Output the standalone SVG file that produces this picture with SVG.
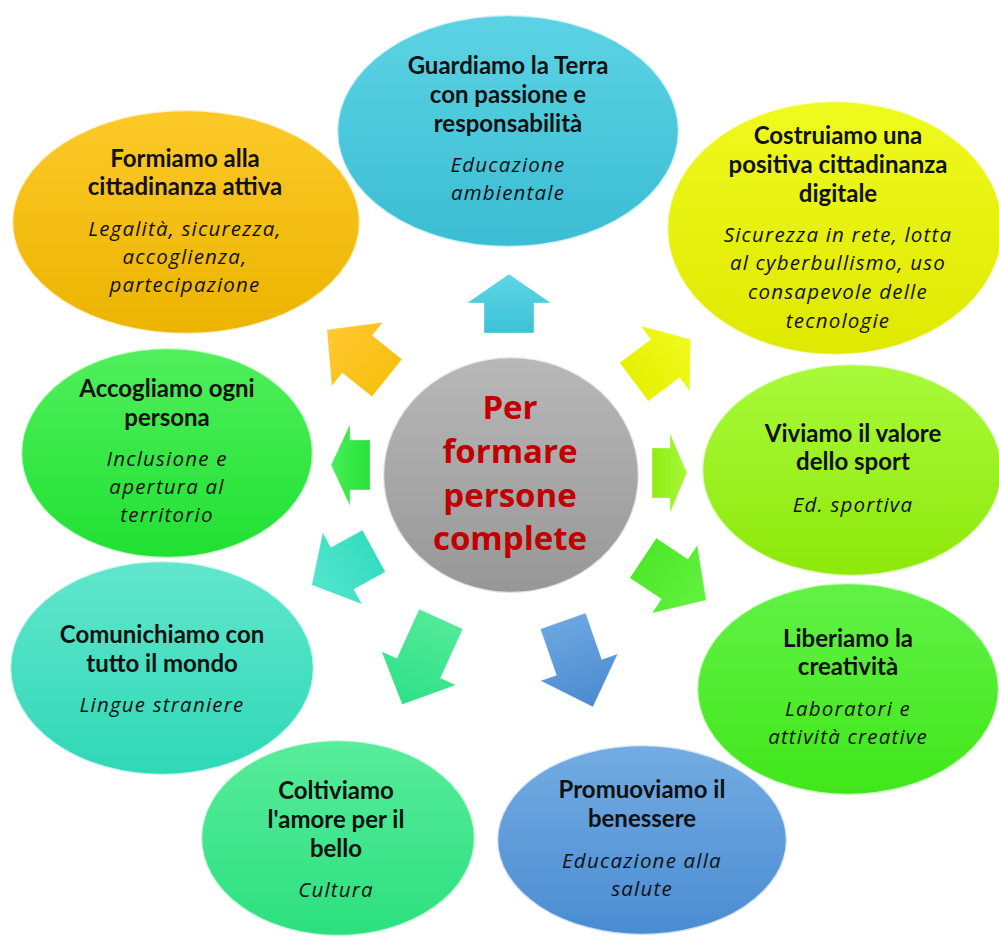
<svg xmlns="http://www.w3.org/2000/svg" width="999" height="936" viewBox="0 0 999 936">
<defs>
<linearGradient id="gCyan" x1="0" y1="0" x2="0" y2="1"><stop offset="0" stop-color="#5cd3e4"/><stop offset="1" stop-color="#3bbdd3"/></linearGradient>
<linearGradient id="gOrange" x1="0" y1="0" x2="0" y2="1"><stop offset="0" stop-color="#fcc928"/><stop offset="1" stop-color="#ecb400"/></linearGradient>
<linearGradient id="gYellow" x1="0" y1="0" x2="0" y2="1"><stop offset="0" stop-color="#effa1e"/><stop offset="1" stop-color="#dfe800"/></linearGradient>
<linearGradient id="gLime" x1="0" y1="0" x2="0" y2="1"><stop offset="0" stop-color="#a8fa3a"/><stop offset="1" stop-color="#8ee80a"/></linearGradient>
<linearGradient id="gGreen" x1="0" y1="0" x2="0" y2="1"><stop offset="0" stop-color="#62f246"/><stop offset="1" stop-color="#40e61a"/></linearGradient>
<linearGradient id="gBlue" x1="0" y1="0" x2="0" y2="1"><stop offset="0" stop-color="#74ace2"/><stop offset="1" stop-color="#4a8cd2"/></linearGradient>
<linearGradient id="gMint" x1="0" y1="0" x2="0" y2="1"><stop offset="0" stop-color="#58ec9c"/><stop offset="1" stop-color="#2ce07e"/></linearGradient>
<linearGradient id="gTeal" x1="0" y1="0" x2="0" y2="1"><stop offset="0" stop-color="#62e6cc"/><stop offset="1" stop-color="#2ed8b6"/></linearGradient>
<linearGradient id="gLeaf" x1="0" y1="0" x2="0" y2="1"><stop offset="0" stop-color="#50f05c"/><stop offset="1" stop-color="#20e032"/></linearGradient>
<linearGradient id="gGray" x1="0" y1="0" x2="0" y2="1"><stop offset="0" stop-color="#b8b8b8"/><stop offset="1" stop-color="#979797"/></linearGradient>
<linearGradient id="aCyan" x1="0" y1="0" x2="1" y2="0"><stop offset="0" stop-color="#3cc2d6"/><stop offset="1" stop-color="#5ed6e6"/></linearGradient>
<linearGradient id="aOrange" x1="0" y1="0" x2="1" y2="0"><stop offset="0" stop-color="#f8c010"/><stop offset="1" stop-color="#ffc830"/></linearGradient>
<linearGradient id="aYellow" x1="0" y1="0" x2="1" y2="0"><stop offset="0" stop-color="#e6f000"/><stop offset="1" stop-color="#f0fa20"/></linearGradient>
<linearGradient id="aLime" x1="0" y1="0" x2="1" y2="0"><stop offset="0" stop-color="#90ee10"/><stop offset="1" stop-color="#a6f83a"/></linearGradient>
<linearGradient id="aLeaf" x1="0" y1="0" x2="1" y2="0"><stop offset="0" stop-color="#28e238"/><stop offset="1" stop-color="#48ee58"/></linearGradient>
<linearGradient id="aTeal" x1="0" y1="0" x2="1" y2="0"><stop offset="0" stop-color="#36dcc0"/><stop offset="1" stop-color="#52e6cc"/></linearGradient>
<linearGradient id="aGreen" x1="0" y1="0" x2="1" y2="0"><stop offset="0" stop-color="#4ee82a"/><stop offset="1" stop-color="#62f240"/></linearGradient>
<linearGradient id="aMint" x1="0" y1="0" x2="1" y2="0"><stop offset="0" stop-color="#52ea98"/><stop offset="1" stop-color="#2ee088"/></linearGradient>
<linearGradient id="aBlue" x1="0" y1="0" x2="1" y2="0"><stop offset="0" stop-color="#6ca6e0"/><stop offset="1" stop-color="#4a8ad0"/></linearGradient>
</defs>
<style>
.node{stroke:#ffffff;stroke-opacity:0.7;stroke-width:2.5}
.t{fill:#111111;text-anchor:middle}
.b{font-family:Lato,"Liberation Sans",sans-serif;font-weight:bold;font-size:24px}
.i{font-family:"Open Sans","Liberation Sans",sans-serif;font-style:italic;font-size:20.5px;letter-spacing:1.2px}
.c{font-family:"Open Sans","Liberation Sans",sans-serif;font-weight:bold;font-size:33px;fill:#c00000;text-anchor:middle}
.arr{stroke:#ffffff;stroke-opacity:0.35;stroke-width:1}
</style>
<rect width="999" height="936" fill="#ffffff"/>
<g id="connectors">
<g transform="translate(509,333) rotate(-90)"><polygon class="arr" fill="url(#aCyan)" points="0,-25 30,-25 30,-42 59,0 30,42 30,25 0,25"/></g>
<g transform="translate(387,378) rotate(-141.3)"><polygon class="arr" fill="url(#aOrange)" points="0,-24 38,-24 38,-41 77,0 38,41 38,24 0,24"/></g>
<g transform="translate(634,382) rotate(-37)"><polygon class="arr" fill="url(#aYellow)" points="0,-24 39,-24 39,-41 71,0 39,41 39,24 0,24"/></g>
<g transform="translate(652,473)"><polygon class="arr" fill="url(#aLime)" points="0,-25 18,-25 18,-40 35,0 18,40 18,25 0,25"/></g>
<g transform="translate(370,465) rotate(180)"><polygon class="arr" fill="url(#aLeaf)" points="0,-25 20,-25 20,-41 39,0 20,41 20,25 0,25"/></g>
<g transform="translate(374,551) rotate(151.3)"><polygon class="arr" fill="url(#aTeal)" points="0,-24 36,-24 36,-41 71,0 36,41 36,24 0,24"/></g>
<g transform="translate(643,558) rotate(33.7)"><polygon class="arr" fill="url(#aGreen)" points="0,-24 38,-24 38,-41 76,0 38,41 38,24 0,24"/></g>
<g transform="translate(441,619) rotate(114.4)"><polygon class="arr" fill="url(#aMint)" points="0,-24 54,-24 54,-41 94,0 54,41 54,24 0,24"/></g>
<g transform="translate(563,621) rotate(70.8)"><polygon class="arr" fill="url(#aBlue)" points="0,-24 49,-24 49,-41 91,0 49,41 49,24 0,24"/></g>
</g>
<g id="center">
<ellipse class="node" cx="511" cy="475" rx="128" ry="118" fill="url(#gGray)"/>
<text class="c" x="510" y="419">Per</text>
<text class="c" x="510" y="463">formare</text>
<text class="c" x="510" y="507">persone</text>
<text class="c" x="510" y="550">complete</text>
</g>
<g id="terra">
<ellipse class="node" cx="508" cy="131" rx="171" ry="116" fill="url(#gCyan)"/>
<text class="t b" x="508" y="74">Guardiamo la Terra</text>
<text class="t b" x="508" y="103">con passione e</text>
<text class="t b" x="508" y="132">responsabilità</text>
<text class="t i" x="508" y="172">Educazione</text>
<text class="t i" x="508" y="200">ambientale</text>
</g>
<g id="cittadinanza">
<ellipse class="node" cx="186" cy="222" rx="174" ry="112" fill="url(#gOrange)"/>
<text class="t b" x="185" y="167">Formiamo alla</text>
<text class="t b" x="185" y="195">cittadinanza attiva</text>
<text class="t i" x="185" y="236">Legalità, sicurezza,</text>
<text class="t i" x="185" y="264">accoglienza,</text>
<text class="t i" x="185" y="292">partecipazione</text>
</g>
<g id="digitale">
<ellipse class="node" cx="835" cy="228" rx="168" ry="127" fill="url(#gYellow)"/>
<text class="t b" x="838" y="144">Costruiamo una</text>
<text class="t b" x="838" y="173">positiva cittadinanza</text>
<text class="t b" x="838" y="202">digitale</text>
<text class="t i" x="838" y="242">Sicurezza in rete, lotta</text>
<text class="t i" x="838" y="270">al cyberbullismo, uso</text>
<text class="t i" x="838" y="299">consapevole delle</text>
<text class="t i" x="838" y="328">tecnologie</text>
</g>
<g id="sport">
<ellipse class="node" cx="852" cy="470" rx="150" ry="106" fill="url(#gLime)"/>
<text class="t b" x="853" y="442">Viviamo il valore</text>
<text class="t b" x="853" y="470">dello sport</text>
<text class="t i" x="853" y="512">Ed. sportiva</text>
</g>
<g id="creativita">
<ellipse class="node" cx="848" cy="689" rx="151" ry="106" fill="url(#gGreen)"/>
<text class="t b" x="848" y="647">Liberiamo la</text>
<text class="t b" x="848" y="675">creatività</text>
<text class="t i" x="848" y="716">Laboratori e</text>
<text class="t i" x="848" y="744">attività creative</text>
</g>
<g id="benessere">
<ellipse class="node" cx="642" cy="840" rx="145" ry="95" fill="url(#gBlue)"/>
<text class="t b" x="642" y="798">Promuoviamo il</text>
<text class="t b" x="642" y="827">benessere</text>
<text class="t i" x="642" y="868">Educazione alla</text>
<text class="t i" x="642" y="896">salute</text>
</g>
<g id="bello">
<ellipse class="node" cx="338" cy="838" rx="137" ry="98" fill="url(#gMint)"/>
<text class="t b" x="336" y="799">Coltiviamo</text>
<text class="t b" x="336" y="828">l'amore per il</text>
<text class="t b" x="336" y="857">bello</text>
<text class="t i" x="336" y="897">Cultura</text>
</g>
<g id="mondo">
<ellipse class="node" cx="162" cy="668" rx="152" ry="107" fill="url(#gTeal)"/>
<text class="t b" x="162" y="643">Comunichiamo con</text>
<text class="t b" x="162" y="672">tutto il mondo</text>
<text class="t i" x="162" y="712">Lingue straniere</text>
</g>
<g id="persona">
<ellipse class="node" cx="167" cy="453" rx="146" ry="105" fill="url(#gLeaf)"/>
<text class="t b" x="167" y="397">Accogliamo ogni</text>
<text class="t b" x="167" y="426">persona</text>
<text class="t i" x="167" y="466">Inclusione e</text>
<text class="t i" x="167" y="494">apertura al</text>
<text class="t i" x="167" y="522">territorio</text>
</g>
</svg>
